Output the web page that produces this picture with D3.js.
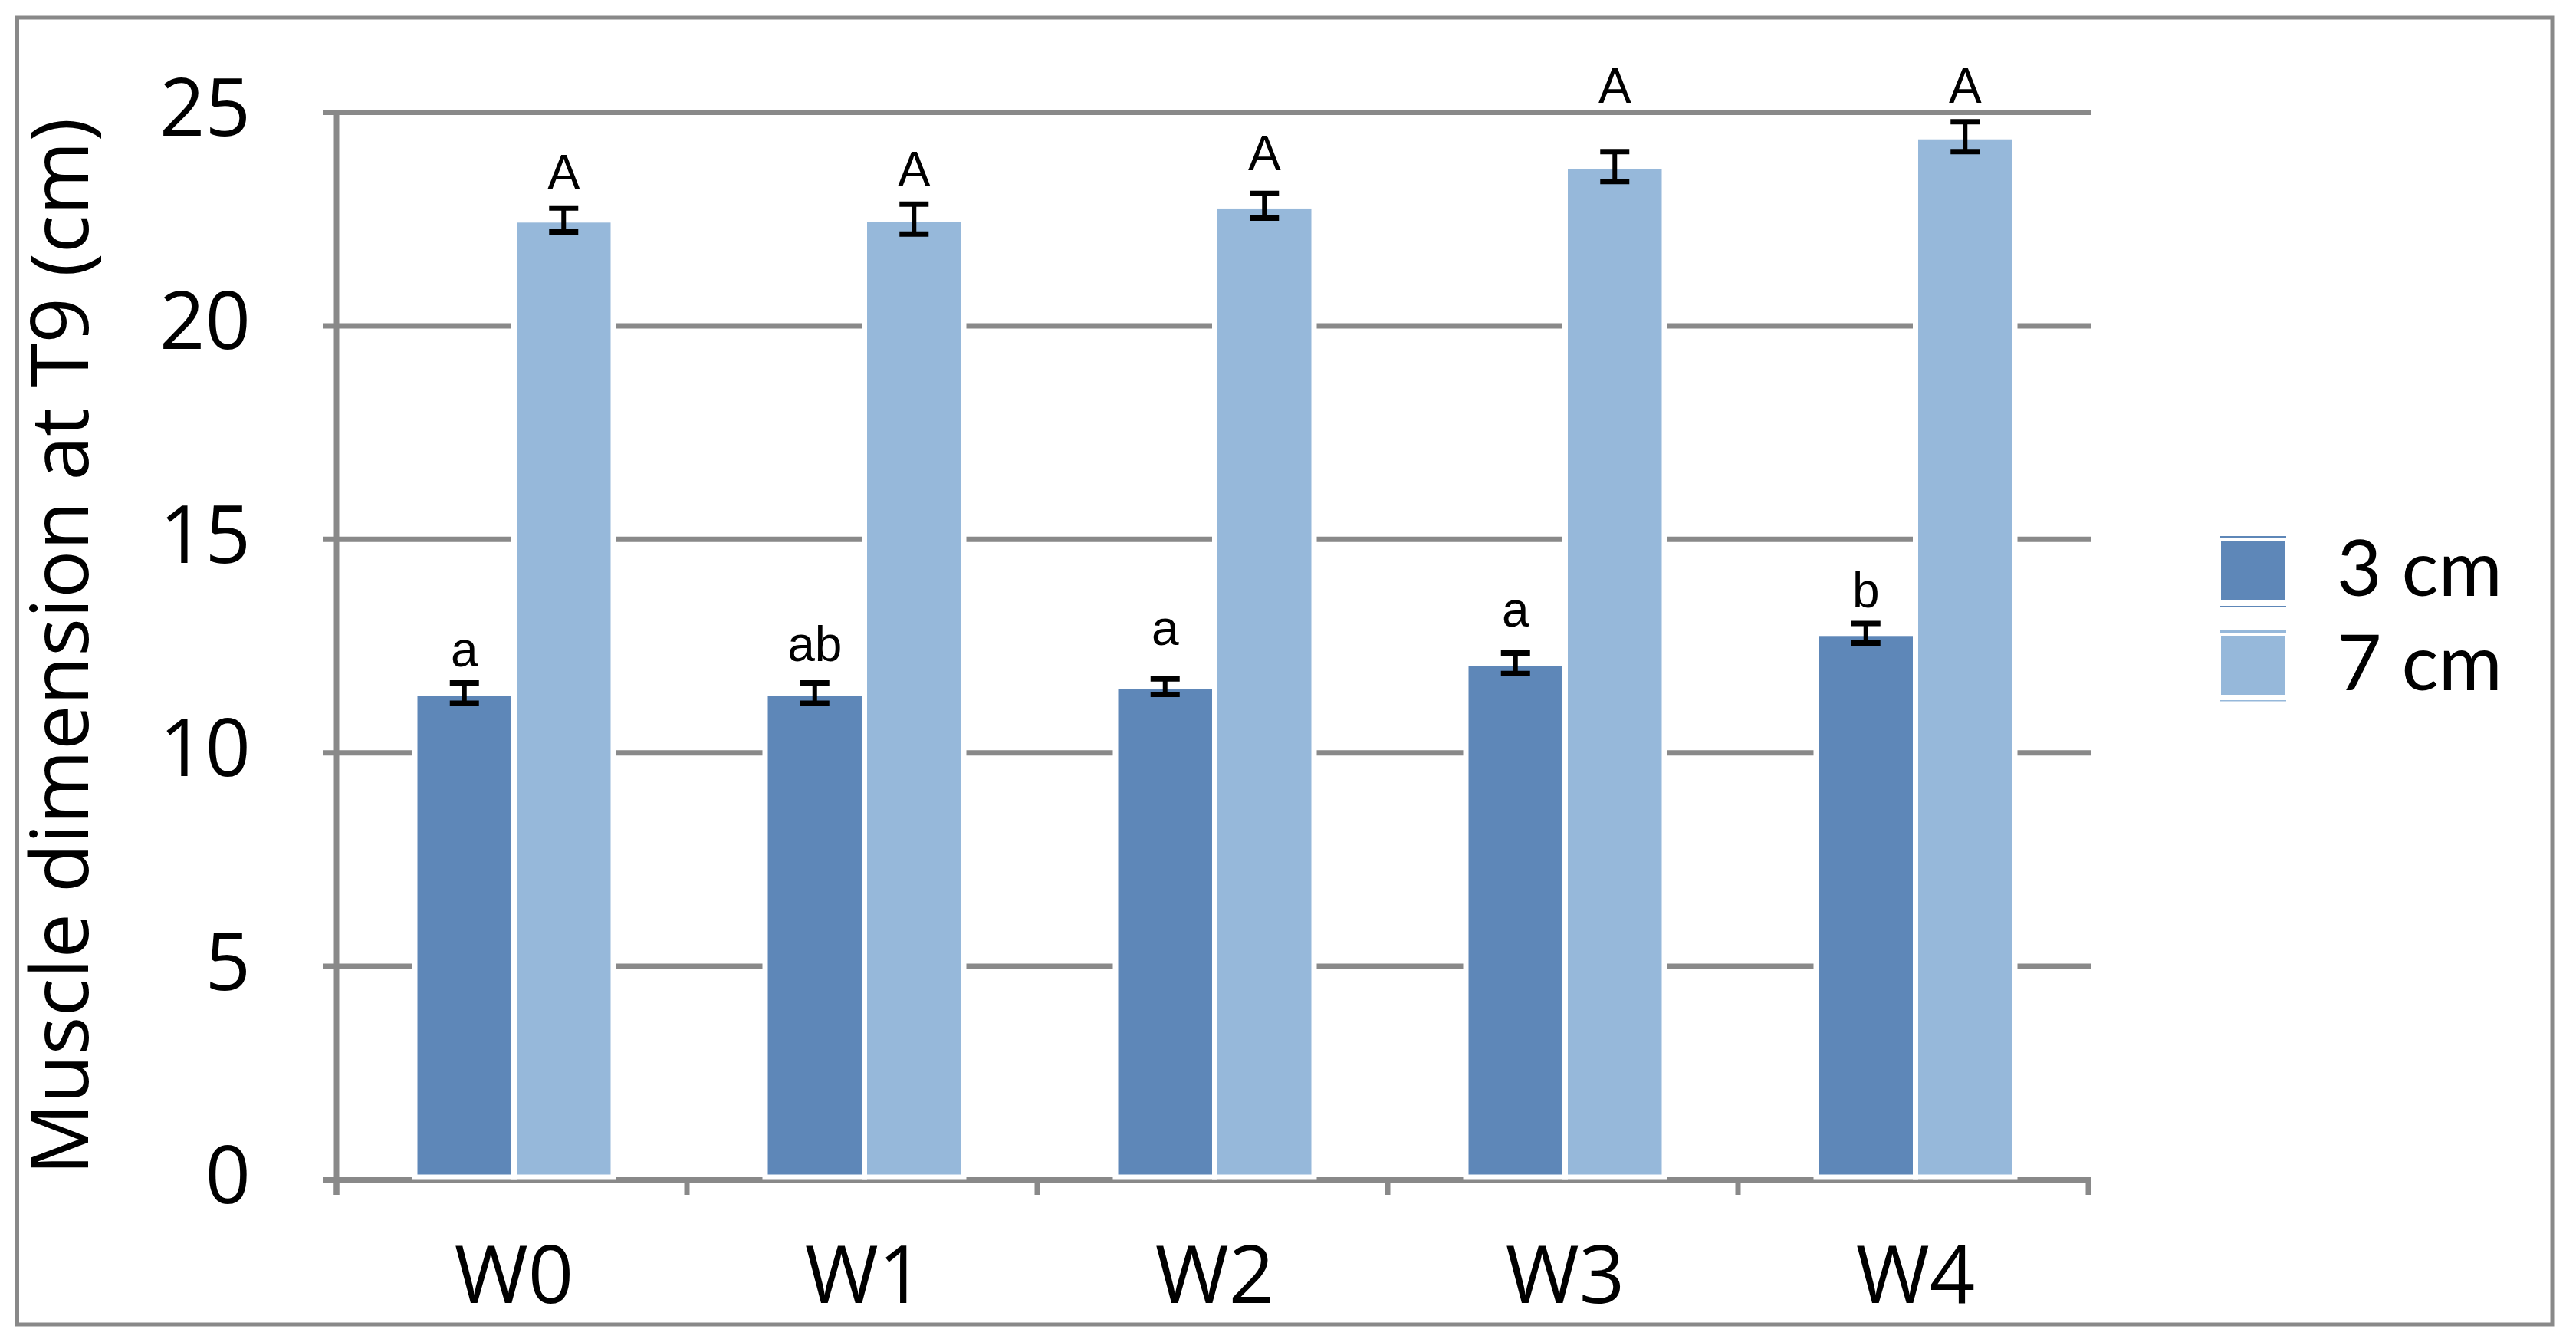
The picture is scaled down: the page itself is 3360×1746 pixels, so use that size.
<!DOCTYPE html>
<html>
<head>
<meta charset="utf-8">
<script src="https://cdn.jsdelivr.net/npm/d3@7/dist/d3.min.js"></script>
<style>
html,body{margin:0;padding:0;background:#fff;}
svg{display:block;}
</style>
</head>
<body>
<script>
const categories = ["W0", "W1", "W2", "W3", "W4"];
const seriesNames = ["3 cm", "7 cm"];
const values3 = [11.4, 11.4, 11.55, 12.1, 12.8];
const values7 = [22.48, 22.5, 22.81, 23.73, 24.43];
const err3 = [0.24, 0.24, 0.18, 0.24, 0.23];
const err7 = [0.28, 0.35, 0.29, 0.35, 0.35];
const letters3 = ["a", "ab", "a", "a", "b"];
const letters7 = ["A", "A", "A", "A", "A"];
const letterAt3 = [12.02, 12.15, 12.53, 12.96, 13.41];
const letterAt7 = [23.2, 23.27, 23.65, 25.22, 25.22];
const yTicks = [0, 5, 10, 15, 20, 25];
const yTitle = "Muscle dimension at T9 (cm)";

const W = 3360, H = 1746;
const colors = ["#5E87B8", "#96B8DA"];
const gray = "#898989";
const font = "'Open Sans', 'Noto Sans', sans-serif";
const legendFont = "Lato, 'Open Sans', sans-serif";
const letterFont = "'Liberation Sans', Arial, sans-serif";

const svg = d3.select("body").append("svg").attr("width", W).attr("height", H);
svg.append("rect").attr("width", W).attr("height", H).attr("fill", "#fff");

// outer border
svg.append("rect").attr("x", 22.5).attr("y", 23).attr("width", 3329 - 22.5).attr("height", 1727 - 23)
  .attr("fill", "none").attr("stroke", gray).attr("stroke-width", 5);

const left = 439, right = 2724;
const y = d3.scaleLinear().domain([0, 25]).range([1538.5, 146.5]);
const x0 = d3.scaleBand().domain(categories).range([left, right]).padding(0);
const pairW = 259;
const x1 = d3.scaleBand().domain(seriesNames).range([0, pairW]).padding(0);

// gridlines (and left ticks)
svg.append("g").selectAll("line").data(yTicks.filter(v => v > 0)).join("line")
  .attr("x1", left - 18).attr("x2", right + 3)
  .attr("y1", d => y(d)).attr("y2", d => y(d))
  .attr("stroke", gray).attr("stroke-width", 7);

// x axis line
svg.append("line").attr("x1", left - 18).attr("x2", right + 3.5)
  .attr("y1", y(0)).attr("y2", y(0)).attr("stroke", gray).attr("stroke-width", 7);
// y axis line
svg.append("line").attr("x1", left).attr("x2", left)
  .attr("y1", y(25) - 3.5).attr("y2", 1558).attr("stroke", gray).attr("stroke-width", 7);
// category ticks
svg.append("g").selectAll("line").data(d3.range(categories.length + 1)).join("line")
  .attr("x1", i => left + i * x0.bandwidth()).attr("x2", i => left + i * x0.bandwidth())
  .attr("y1", y(0)).attr("y2", 1558).attr("stroke", gray).attr("stroke-width", 7);

// y tick labels
svg.append("g").selectAll("text").data(yTicks).join("text")
  .attr("x", 327).attr("y", d => y(d) + 30.5)
  .attr("text-anchor", "end").attr("font-family", font).attr("font-size", 104).attr("fill", "#000")
  .text(d => d);

// x labels
svg.append("g").selectAll("text").data(categories).join("text")
  .attr("x", d => x0(d) + x0.bandwidth() / 2 + 3).attr("y", 1699)
  .attr("text-anchor", "middle").attr("font-family", font).attr("font-size", 104).attr("fill", "#000")
  .text(d => d);

// y title
svg.append("text").attr("transform", "translate(115,843) rotate(-90)")
  .attr("text-anchor", "middle").attr("font-family", font).attr("font-size", 104).attr("fill", "#000")
  .text(yTitle);

// bars
const rows = categories.map((c, i) => ({
  cat: c,
  items: [
    {s: seriesNames[0], v: values3[i], e: err3[i], lab: letters3[i], la: letterAt3[i], col: colors[0]},
    {s: seriesNames[1], v: values7[i], e: err7[i], lab: letters7[i], la: letterAt7[i], col: colors[1]}
  ]
}));

const groups = svg.append("g").selectAll("g").data(rows).join("g")
  .attr("transform", d => `translate(${x0(d.cat) + (x0.bandwidth() - pairW) / 2 + 3},0)`);

groups.selectAll("rect").data(d => d.items).join("rect")
  .attr("x", d => x1(d.s)).attr("width", x1.bandwidth())
  .attr("y", d => y(d.v)).attr("height", d => y(0) - 3.5 - y(d.v))
  .attr("fill", d => d.col).attr("stroke", "#fff").attr("stroke-width", 7);

// error bars
const eb = groups.selectAll("g.eb").data(d => d.items).join("g").attr("class", "eb");
eb.append("line")
  .attr("x1", d => x1(d.s) + x1.bandwidth() / 2).attr("x2", d => x1(d.s) + x1.bandwidth() / 2)
  .attr("y1", d => y(d.v + d.e)).attr("y2", d => y(d.v - d.e))
  .attr("stroke", "#000").attr("stroke-width", 6);
eb.append("line")
  .attr("x1", d => x1(d.s) + x1.bandwidth() / 2 - 19).attr("x2", d => x1(d.s) + x1.bandwidth() / 2 + 19)
  .attr("y1", d => y(d.v + d.e)).attr("y2", d => y(d.v + d.e))
  .attr("stroke", "#000").attr("stroke-width", 7);
eb.append("line")
  .attr("x1", d => x1(d.s) + x1.bandwidth() / 2 - 19).attr("x2", d => x1(d.s) + x1.bandwidth() / 2 + 19)
  .attr("y1", d => y(d.v - d.e)).attr("y2", d => y(d.v - d.e))
  .attr("stroke", "#000").attr("stroke-width", 7);

// letters
groups.selectAll("text").data(d => d.items).join("text")
  .attr("x", d => x1(d.s) + x1.bandwidth() / 2).attr("y", d => y(d.la))
  .attr("text-anchor", "middle").attr("font-family", letterFont).attr("font-size", 64).attr("fill", "#000")
  .text(d => d.lab);

// legend
const leg = svg.append("g").selectAll("g").data(seriesNames).join("g")
  .attr("transform", (d, i) => `translate(0,${i * 123})`);
leg.append("rect").attr("x", 2896).attr("y", 699).attr("width", 86).attr("height", 3).attr("fill", (d, i) => colors[i]);
leg.append("rect").attr("x", 2897).attr("y", 706).attr("width", 84).attr("height", 77).attr("fill", (d, i) => colors[i]);
leg.append("rect").attr("x", 2896).attr("y", 790).attr("width", 86).attr("height", 1.5).attr("fill", (d, i) => colors[i]);
leg.append("text").attr("x", 3048).attr("y", 777)
  .attr("font-family", legendFont).attr("font-size", 101).attr("fill", "#000").text(d => d);
</script>
</body>
</html>
